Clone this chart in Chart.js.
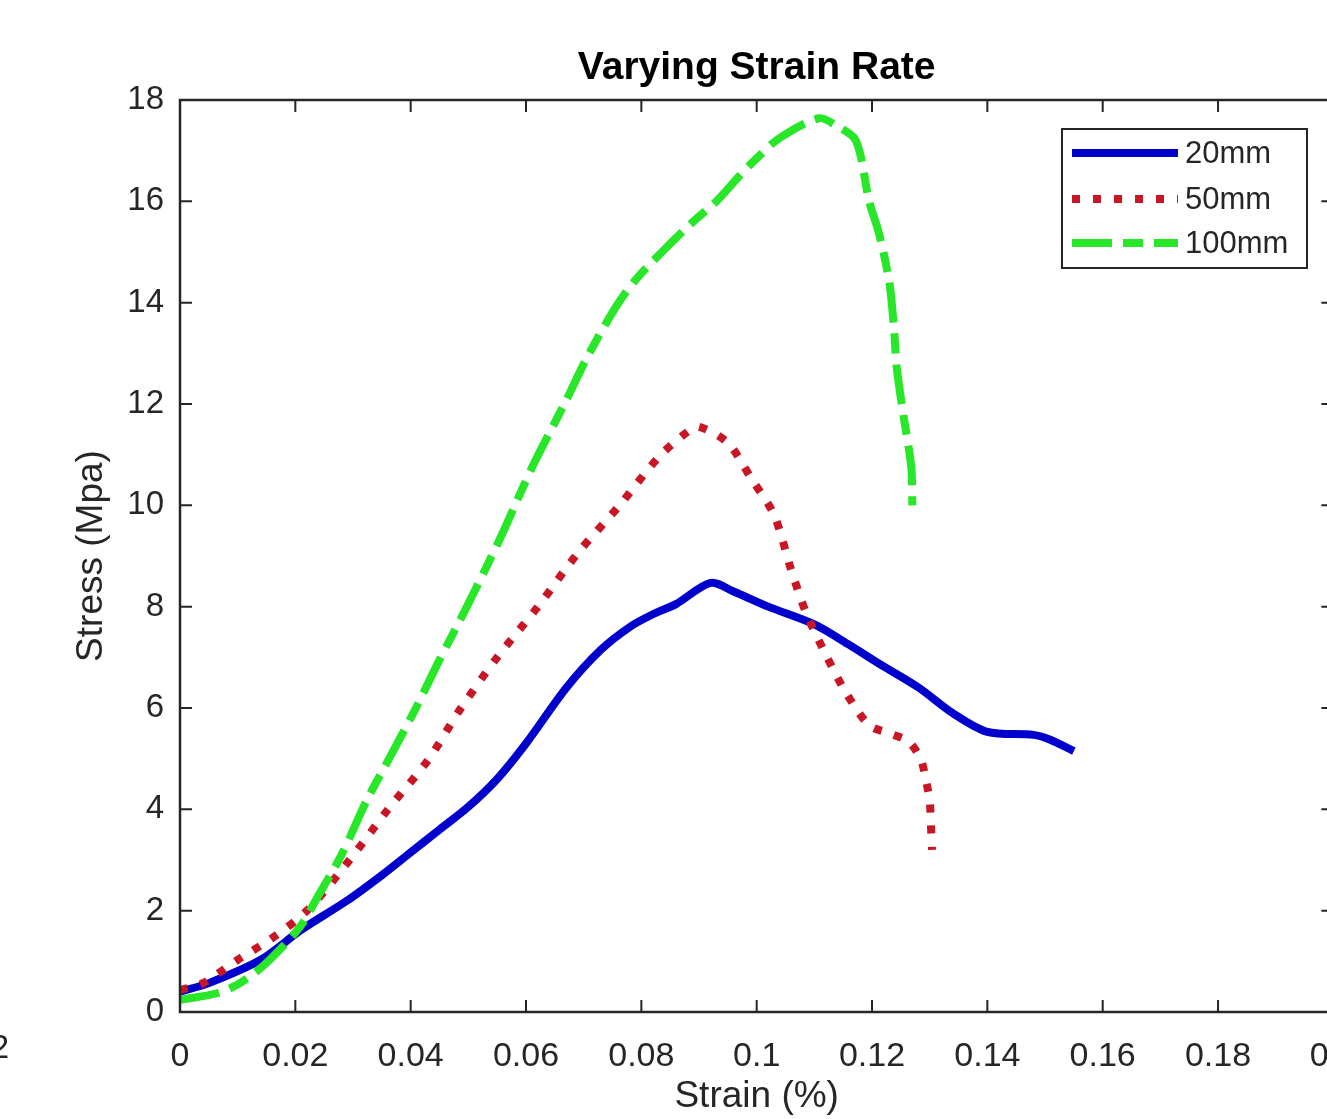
<!DOCTYPE html>
<html>
<head>
<meta charset="utf-8">
<script src="https://cdn.jsdelivr.net/npm/chart.js@4.4.1/dist/chart.umd.min.js"></script>
<style>
  html, body { margin: 0; padding: 0; background: #fff; overflow: hidden; }
  #wrap { position: absolute; left: 0; top: 0; width: 1381px; height: 1119px; }
</style>
</head>
<body>
<div id="wrap"><canvas id="myChart" width="1381" height="1119"></canvas></div>
<script>
// 20mm
const strain20 = [0, 0.005, 0.014, 0.021, 0.029, 0.035, 0.04, 0.045, 0.05, 0.055, 0.06, 0.067, 0.073, 0.078, 0.082, 0.086, 0.092, 0.096, 0.102, 0.11, 0.116, 0.121, 0.128, 0.134, 0.14, 0.148, 0.151, 0.155];
const stress20 = [0.4, 0.57, 1.03, 1.62, 2.2, 2.7, 3.15, 3.6, 4.05, 4.6, 5.3, 6.4, 7.15, 7.6, 7.85, 8.05, 8.47, 8.3, 8.0, 7.65, 7.25, 6.89, 6.41, 5.9, 5.53, 5.47, 5.37, 5.15];
// 50mm
const strain50 = [0, 0.004, 0.01, 0.016, 0.022, 0.029, 0.036, 0.043, 0.0485, 0.055, 0.062, 0.069, 0.076, 0.083, 0.088, 0.09, 0.095, 0.099, 0.103, 0.106, 0.1086, 0.112, 0.1155, 0.1195, 0.123, 0.1264, 0.1285, 0.1294, 0.13, 0.1302, 0.1304];
const stress50 = [0.43, 0.57, 1.03, 1.46, 2.0, 2.94, 3.99, 4.97, 5.96, 7.0, 7.99, 9.06, 9.97, 10.95, 11.45, 11.55, 11.23, 10.54, 9.81, 8.72, 7.87, 7.05, 6.3, 5.66, 5.5, 5.33, 4.97, 4.54, 4.18, 3.73, 3.2];
// 100mm
const strain100 = [0, 0.0064, 0.0104, 0.015, 0.0208, 0.024, 0.028, 0.0324, 0.0364, 0.041, 0.045, 0.0497, 0.0554, 0.0611, 0.067, 0.0705, 0.0755, 0.079, 0.084, 0.089, 0.093, 0.097, 0.1, 0.104, 0.1108, 0.1137, 0.1172, 0.1195, 0.1212, 0.123, 0.1238, 0.1243, 0.1255, 0.1268, 0.127];
const stress100 = [0.24, 0.37, 0.57, 0.97, 1.68, 2.3, 3.1, 4.18, 5.03, 6.02, 6.95, 7.99, 9.32, 10.76, 12.08, 12.9, 13.9, 14.45, 15.05, 15.6, 16.0, 16.5, 16.85, 17.25, 17.64, 17.5, 17.2, 16.0, 15.37, 14.4, 13.5, 12.7, 11.74, 10.76, 10.0];

const seriesNames = ['20mm', '50mm', '100mm'];
const xTicks = [0, 0.02, 0.04, 0.06, 0.08, 0.1, 0.12, 0.14, 0.16, 0.18, 0.2];
const yTicks = [0, 2, 4, 6, 8, 10, 12, 14, 16, 18];

const FONT = 'Liberation Sans, Arial, Helvetica, sans-serif';
const AXIS = '#262626';

function toPoints(xs, ys) {
    return xs.map((x, i) => ({ x: x, y: ys[i] }));
}

// box, inward ticks, title, legend
const matlabLook = {
    id: 'matlabLook',
    afterDraw(chart) {
        const ctx = chart.ctx;
        const ca = chart.chartArea;
        const xs = chart.scales.x;
        const ys = chart.scales.y;
        ctx.save();
        ctx.strokeStyle = AXIS;
        ctx.lineWidth = 2.5;
        ctx.strokeRect(ca.left, ca.top, ca.right - ca.left, ca.bottom - ca.top);
        ctx.lineWidth = 2;
        const tl = 12;
        xTicks.forEach(v => {
            const p = xs.getPixelForValue(v);
            ctx.beginPath();
            ctx.moveTo(p, ca.bottom); ctx.lineTo(p, ca.bottom - tl);
            ctx.moveTo(p, ca.top); ctx.lineTo(p, ca.top + tl);
            ctx.stroke();
        });
        yTicks.forEach(v => {
            const p = ys.getPixelForValue(v);
            ctx.beginPath();
            ctx.moveTo(ca.left, p); ctx.lineTo(ca.left + tl, p);
            ctx.moveTo(ca.right, p); ctx.lineTo(ca.right - tl, p);
            ctx.stroke();
        });

        // title
        ctx.fillStyle = '#000';
        ctx.font = 'bold 39px ' + FONT;
        ctx.textAlign = 'center';
        ctx.textBaseline = 'middle';
        ctx.fillText('Varying Strain Rate', (ca.left + ca.right) / 2, 68);

        // leftover label from neighbouring plot
        ctx.fillStyle = AXIS;
        ctx.font = '33px ' + FONT;
        ctx.textAlign = 'right';
        ctx.fillText('0.2', 9, 1049);

        // legend
        const bx = 1062, by = 129, bw = 245, bh = 139;
        ctx.fillStyle = '#fff';
        ctx.fillRect(bx, by, bw, bh);
        ctx.strokeStyle = AXIS;
        ctx.lineWidth = 2;
        ctx.strokeRect(bx, by, bw, bh);
        const rows = [153, 199, 243];
        chart.data.datasets.forEach((ds, i) => {
            ctx.beginPath();
            ctx.strokeStyle = ds.borderColor;
            ctx.lineWidth = ds.borderWidth;
            ctx.lineCap = 'butt';
            ctx.setLineDash(ds.borderDash || []);
            ctx.moveTo(1072, rows[i]);
            ctx.lineTo(1178, rows[i]);
            ctx.stroke();
            ctx.setLineDash([]);
            ctx.fillStyle = AXIS;
            ctx.font = '31px ' + FONT;
            ctx.textAlign = 'left';
            ctx.textBaseline = 'middle';
            ctx.fillText(ds.label, 1185, rows[i] + 1);
        });
        ctx.restore();
    }
};

document.addEventListener("DOMContentLoaded", function () {
    const data = {
        datasets: [{
            label: seriesNames[0],
            data: toPoints(strain20, stress20),
            borderColor: 'rgb(0,0,205)',
            borderWidth: 8,
            order: 2,
        }, {
            label: seriesNames[1],
            data: toPoints(strain50, stress50),
            borderColor: 'rgb(200,22,36)',
            borderWidth: 8,
            borderDash: [8, 13],
            order: 1,
        }, {
            label: seriesNames[2],
            data: toPoints(strain100, stress100),
            borderColor: 'rgb(40,230,40)',
            borderWidth: 8,
            borderDash: [40, 11, 20, 11],
            order: 0,
        }]
    };
    const config = {
        type: 'scatter',
        data: data,
        options: {
            responsive: false,
            animation: false,
            showLine: true,
            layout: { padding: { top: 100, left: 0, right: 27, bottom: 0 } },
            elements: {
                point: { radius: 0 },
                line: { tension: 0.3, borderCapStyle: 'butt', borderJoinStyle: 'round' }
            },
            plugins: {
                legend: { display: false },
                tooltip: { enabled: false },
                title: { display: false }
            },
            scales: {
                x: {
                    type: 'linear',
                    min: 0, max: 0.2,
                    afterBuildTicks: s => { s.ticks = xTicks.map(v => ({ value: v })); },
                    afterFit: s => { s.height = 107; },
                    grid: { display: false, drawTicks: false },
                    border: { display: false },
                    ticks: {
                        color: AXIS,
                        font: { family: FONT, size: 34 },
                        padding: 24,
                        maxRotation: 0,
                        autoSkip: false,
                        callback: v => String(parseFloat(v.toFixed(2)))
                    },
                    title: {
                        display: true,
                        text: 'Strain (%)',
                        color: AXIS,
                        font: { family: FONT, size: 37 },
                        padding: { top: 0, bottom: 0 }
                    }
                },
                y: {
                    type: 'linear',
                    min: 0, max: 18,
                    afterBuildTicks: s => { s.ticks = yTicks.map(v => ({ value: v })); },
                    afterFit: s => { s.width = 180; },
                    grid: { display: false, drawTicks: false },
                    border: { display: false },
                    ticks: {
                        color: AXIS,
                        font: { family: FONT, size: 33 },
                        padding: 16,
                        autoSkip: false,
                        callback: v => String(v)
                    },
                    title: {
                        display: true,
                        text: 'Stress (Mpa)',
                        color: AXIS,
                        font: { family: FONT, size: 37 },
                        padding: { top: 70, bottom: 0 }
                    }
                }
            }
        },
        plugins: [matlabLook]
    };
    new Chart(document.getElementById('myChart'), config);
});
</script>
</body>
</html>
